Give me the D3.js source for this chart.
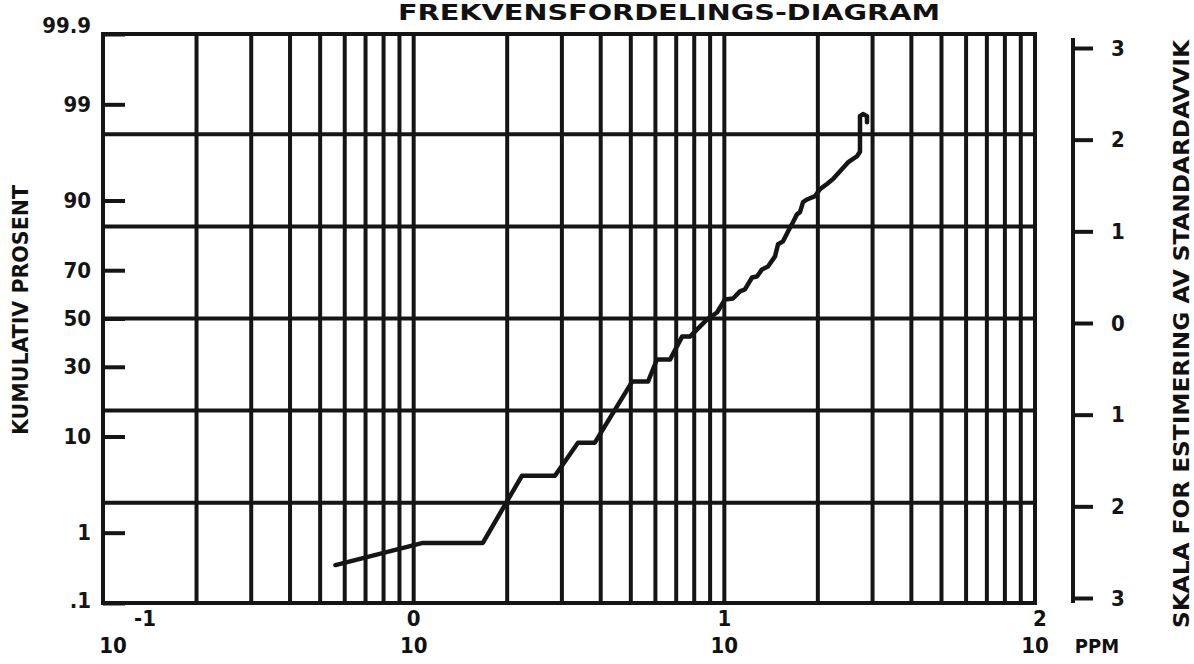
<!DOCTYPE html>
<html>
<head>
<meta charset="utf-8">
<script src="https://cdn.jsdelivr.net/npm/d3@7"></script>
<style>
  html, body { margin: 0; padding: 0; background: #fff; }
  svg { display: block; }
  text { font-family: "DejaVu Sans Condensed", "DejaVu Sans", "Liberation Sans Narrow", sans-serif; font-weight: bold; fill: #111; }
</style>
</head>
<body>
<svg id="chart" width="1194" height="664"></svg>
<script>
// ---- data ----
const title = "FREKVENSFORDELINGS-DIAGRAM";
const yTitle = "KUMULATIV PROSENT";
const rTitle = "SKALA FOR ESTIMERING AV STANDARDAVVIK";
const xUnit = "PPM";

const ppm = [0.56, 1.07, 1.67, 2.23, 2.85, 3.38, 3.83, 5.05, 5.68, 6.07, 6.69, 7.31, 7.75, 8.80, 9.47,
             10.05, 10.66, 11.23, 11.65, 12.28, 12.74, 13.22, 13.82, 14.56, 14.89, 15.45, 16.03, 16.63,
             17.13, 17.52, 17.92, 18.46, 19.58, 20.32, 21.40, 22.38, 23.57, 25.00, 26.73, 27.33, 27.33,
             27.95, 28.79, 28.79];
const percent = [0.37, 0.74, 0.74, 4.38, 4.38, 8.87, 8.87, 24.65, 24.65, 32.8, 32.8, 42.2, 42.2, 49.6, 52.6,
                 58.2, 58.6, 61.6, 62.4, 67.2, 67.6, 70.3, 71.4, 75.0, 79.0, 79.9, 82.8, 85.2,
                 87.1, 87.6, 89.7, 90.2, 90.8, 92.0, 92.8, 93.5, 94.5, 95.5, 96.1, 96.5, 98.6,
                 98.68, 98.6, 98.35];

const pTicks = [0.1, 1, 10, 30, 50, 70, 90, 99, 99.9];
const pTickLabels = [".1", "1", "10", "30", "50", "70", "90", "99", "99.9"];
const sdTicks = [-3, -2, -1, 0, 1, 2, 3];
const sdTickLabels = ["3", "2", "1", "0", "1", "2", "3"];
const sdGrid = [-2, -1, 0, 1, 2];
const xDecades = [0.1, 1, 10, 100];
const xExponents = ["-1", "0", "1", "2"];
const xGrid = [0.1,0.2,0.3,0.4,0.5,0.6,0.7,0.8,0.9,1,2,3,4,5,6,7,8,9,10,20,30,40,50,60,70,80,90,100];

// inverse normal CDF (Acklam)
function probit(p) {
  const a = [-3.969683028665376e+01, 2.209460984245205e+02, -2.759285104469687e+02, 1.383577518672690e+02, -3.066479806614716e+01, 2.506628277459239e+00];
  const b = [-5.447609879822406e+01, 1.615858368580409e+02, -1.556989798598866e+02, 6.680131188771972e+01, -1.328068155288572e+01];
  const c = [-7.784894002430293e-03, -3.223964580411365e-01, -2.400758277161838e+00, -2.549671500254590e+00, 4.374664141464968e+00, 2.938163982698783e+00];
  const d = [7.784695709041462e-03, 3.224671290700398e-01, 2.445134137142996e+00, 3.754408661907416e+00];
  const pl = 0.02425, ph = 1 - pl;
  let q, r;
  if (p < pl) { q = Math.sqrt(-2 * Math.log(p));
    return (((((c[0]*q+c[1])*q+c[2])*q+c[3])*q+c[4])*q+c[5]) / ((((d[0]*q+d[1])*q+d[2])*q+d[3])*q+1); }
  if (p <= ph) { q = p - 0.5; r = q*q;
    return (((((a[0]*r+a[1])*r+a[2])*r+a[3])*r+a[4])*r+a[5])*q / (((((b[0]*r+b[1])*r+b[2])*r+b[3])*r+b[4])*r+1); }
  q = Math.sqrt(-2 * Math.log(1 - p));
  return -(((((c[0]*q+c[1])*q+c[2])*q+c[3])*q+c[4])*q+c[5]) / ((((d[0]*q+d[1])*q+d[2])*q+d[3])*q+1);
}
const zOf = p => probit(p / 100);

// ---- layout ----
const L = 103, R = 1035, T = 34, B = 603;
const svg = d3.select("#chart");

const x = d3.scaleLog().domain([0.1, 100]).range([L, R]);
const zMax = zOf(99.9);
const yz = d3.scaleLinear().domain([-zMax, zMax]).range([B, T]);
// separately printed standard-deviation scale on the right
const ysd = d3.scaleLinear().domain([-3, 3]).range([598, 48]);

const ink = "#151515";
const W = 4;

// grid
svg.append("g").selectAll("line.v").data(xGrid).join("line")
  .attr("x1", d => x(d)).attr("x2", d => x(d)).attr("y1", T).attr("y2", B)
  .attr("stroke", ink).attr("stroke-width", W);
svg.append("g").selectAll("line.h").data(sdGrid).join("line")
  .attr("x1", L).attr("x2", R).attr("y1", d => yz(d)).attr("y2", d => yz(d))
  .attr("stroke", ink).attr("stroke-width", W);
// frame
svg.append("rect").attr("x", L).attr("y", T).attr("width", R - L).attr("height", B - T)
  .attr("fill", "none").attr("stroke", ink).attr("stroke-width", W);

// left axis (ticks inward)
const leftAxis = d3.axisLeft(yz)
  .tickValues(pTicks.map(zOf))
  .tickFormat((d, i) => pTickLabels[i])
  .tickSizeInner(-22).tickSizeOuter(0).tickPadding(12);
const gl = svg.append("g").attr("transform", `translate(${L},0)`).call(leftAxis);
gl.select(".domain").remove();
gl.selectAll(".tick line").attr("stroke", ink).attr("stroke-width", W);
gl.selectAll(".tick text").attr("font-size", 22).style("fill", ink)
  .attr("font-family", null);
gl.selectAll(".tick").filter((d, i) => i === pTicks.length - 1).select("text").attr("dy", "-0.05em");
gl.selectAll(".tick").filter((d, i) => i === 0).select("text").attr("dy", "0.2em");

// right sd axis
const rightAxis = d3.axisRight(ysd)
  .tickValues(sdTicks)
  .tickFormat((d, i) => sdTickLabels[i])
  .tickSizeInner(20).tickSizeOuter(0).tickPadding(18);
const gr = svg.append("g").attr("transform", `translate(1073,0)`).call(rightAxis);
gr.select(".domain").attr("stroke", ink).attr("stroke-width", W)
  .attr("d", `M0,38V603`);
gr.selectAll(".tick line").attr("stroke", ink).attr("stroke-width", W);
gr.selectAll(".tick text").attr("font-size", 22).style("fill", ink).attr("font-family", null);

// bottom labels 10^k
const gb = svg.append("g");
gb.selectAll("text.base").data(xDecades).join("text")
  .attr("x", (d, i) => x(d) + (i === 0 ? 10 : 0)).attr("y", 653)
  .attr("text-anchor", "middle").attr("font-size", 22).text("10");
gb.selectAll("text.exp").data(xDecades).join("text")
  .attr("x", (d, i) => x(d) + (i === 0 ? 42 : (i === 3 ? 5 : 0))).attr("y", 626)
  .attr("text-anchor", "middle").attr("font-size", 22).text((d, i) => xExponents[i]);
gb.append("text").attr("x", 1097).attr("y", 653).attr("text-anchor", "middle")
  .attr("font-size", 20).text(xUnit);

// titles
svg.append("text").attr("x", 669).attr("y", 20).attr("text-anchor", "middle")
  .attr("font-size", 22).attr("textLength", 542).attr("lengthAdjust", "spacingAndGlyphs").text(title);
svg.append("text").attr("transform", "translate(28,310) rotate(-90)").attr("text-anchor", "middle")
  .attr("font-size", 21).attr("textLength", 250).attr("lengthAdjust", "spacingAndGlyphs").text(yTitle);
svg.append("text").attr("transform", "translate(1189,334) rotate(-90)").attr("text-anchor", "middle")
  .attr("font-size", 21).attr("textLength", 588).attr("lengthAdjust", "spacingAndGlyphs").text(rTitle);

// data curve
const line = d3.line().x(d => x(d[0])).y(d => yz(zOf(d[1])));
svg.append("path").datum(ppm.map((v, i) => [v, percent[i]]))
  .attr("d", line).attr("fill", "none").attr("stroke", ink)
  .attr("stroke-width", 4.5).attr("stroke-linejoin", "round").attr("stroke-linecap", "round");
</script>
</body>
</html>
